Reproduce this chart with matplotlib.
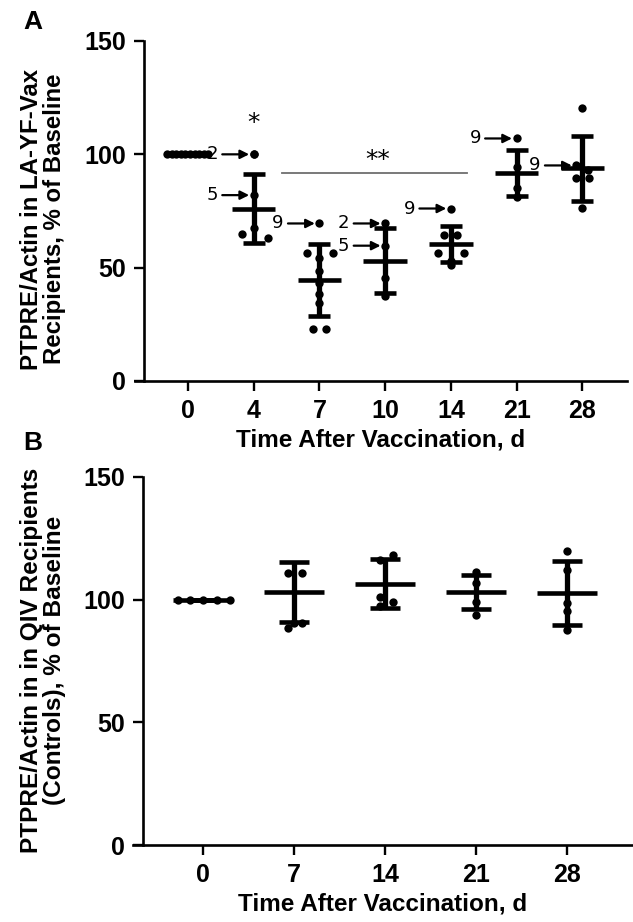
import numpy as np
import matplotlib
matplotlib.use("Agg")
import matplotlib.pyplot as plt

plt.rcParams['font.family'] = ['Liberation Sans', 'DejaVu Sans']

# ---- panel A: LA-YF-Vax recipients ----
days_a = ['0', '4', '7', '10', '14', '21', '28']
pts_a = [
    [100, 100, 100, 100, 100, 100, 100, 100, 100, 100],
    [100, 100, 82, 67.3, 65, 63.3],
    [69.5, 56.6, 56.6, 54.4, 48.7, 43.4, 38.5, 34.5, 23, 23],
    [69.5, 59.7, 45.6, 37.6],
    [76.1, 64.2, 64.2, 56.6, 56.6, 53.1, 51.3],
    [107, 94.2, 85, 81],
    [120.4, 95.1, 93, 89.4, 89.4, 76.5],
]
# horizontal scatter of the dots (category units)
jit_a = [
    [-0.32, -0.25, -0.18, -0.11, -0.04, 0.03, 0.1, 0.17, 0.24, 0.3],
    [0, 0, 0, 0, -0.18, 0.21],
    [0, -0.19, 0.2, 0, 0, 0, 0, 0, -0.1, 0.1],
    [0, 0, 0, 0],
    [0, -0.1, 0.09, -0.2, 0.2, 0, 0],
    [0, 0, 0, 0],
    [0, -0.09, 0.08, -0.09, 0.1, 0],
]
mean_a = [100, 76.1, 44.7, 53.1, 60.6, 91.6, 93.8]
sd_a = [0, 15.3, 15.9, 14.4, 8.0, 10.2, 14.4]

# subject labels (day, subject, value)
lab_day = ['4', '4', '7', '10', '10', '14', '21', '28']
lab_subj = ['2', '5', '9', '2', '5', '9', '9', '9']
lab_val = [100, 82, 69.5, 69.5, 59.7, 76.1, 107, 95.1]
lab_shift = [0, 0, 0, 0, 0, 0, 0, -0.09]

# ---- panel B: QIV recipients (controls) ----
days_b = ['0', '7', '14', '21', '28']
pts_b = [
    [100, 100, 100, 100, 100],
    [110.9, 110.9, 88.5, 90.5, 90.5],
    [118.2, 116.2, 101, 99, 97.4],
    [111.3, 106.8, 99, 93.8],
    [119.9, 112.1, 98.7, 95.4, 87.6],
]
jit_b = [
    [-0.28, -0.14, 0, 0.15, 0.3],
    [-0.07, 0.09, -0.07, 0.09, 0],
    [0.08, -0.06, -0.06, 0.08, -0.06],
    [0, 0, 0, 0],
    [0, 0, 0, 0, 0],
]
mean_b = [100, 103.1, 106.4, 103.1, 102.7]
sd_b = [0, 12.2, 10.0, 6.8, 13.0]

W, H = 633, 922
fig = plt.figure(figsize=(W / 100, H / 100), dpi=100)

def px_axes(left, right, top, bottom):
    return fig.add_axes([left / W, 1 - bottom / H, (right - left) / W, (bottom - top) / H])

def draw_panel(ax, days, pts, jit, means, sds, xlim, spine_x, capsize):
    idx = np.arange(len(days))
    for i in idx:
        xs = i + np.array(jit[i])
        ax.scatter(xs, pts[i], s=36, color='k', zorder=3, linewidths=0)
    ax.hlines(means, idx - 0.33, idx + 0.33, color='k', lw=3.3, zorder=4)
    ax.errorbar(idx, means, yerr=sds, fmt='none', ecolor='k', elinewidth=3.8,
                capsize=capsize, capthick=3.3, zorder=4)
    ax.set_xlim(*xlim)
    ax.set_ylim(0, 150)
    ax.set_xticks(idx)
    ax.set_xticklabels(days)
    ax.set_yticks([0, 50, 100, 150])
    for s in ['top', 'right']:
        ax.spines[s].set_visible(False)
    ax.spines['left'].set_position(('data', spine_x))
    ax.spines['left'].set_bounds(0, 150)
    for s in ['left', 'bottom']:
        ax.spines[s].set_linewidth(1.9)
    ax.tick_params(length=7, width=1.7, labelsize=18, pad=6)
    for t in ax.get_xticklabels() + ax.get_yticklabels():
        t.set_fontweight('bold')
    ax.set_xlabel('Time After Vaccination, d', fontsize=17.5, fontweight='bold', labelpad=4)
    return idx

# panel A
axA = px_axes(135, 627, 41, 381)
idxA = draw_panel(axA, days_a, pts_a, jit_a, mean_a, sd_a, (-0.807, 6.68), -0.67, 7.8)
axA.set_ylabel('PTPRE/Actin in LA-YF-Vax\nRecipients, % of Baseline',
               fontsize=17.3, fontweight='bold', linespacing=1.0)
axA.yaxis.set_label_coords(-0.14, 0.476)

for d, s, v, sh in zip(lab_day, lab_subj, lab_val, lab_shift):
    i = days_a.index(d) + sh
    axA.annotate(s, xy=(i - 0.07, v), xytext=(i - 0.63, v),
                 ha='center', va='center', fontsize=13, family='DejaVu Sans',
                 arrowprops=dict(arrowstyle='-|>', color='k', lw=1.6,
                                 mutation_scale=13, shrinkA=1, shrinkB=0))

axA.text(1, 113.7, '*', ha='center', va='center', fontsize=18, family='DejaVu Sans')
axA.plot([1.43, 4.25], [91.6, 91.6], color='#6e6e6e', lw=1.3)
axA.text(2.88, 97.5, '**', ha='center', va='center', fontsize=18, family='DejaVu Sans')

# panel B
axB = px_axes(133, 633, 477, 845)
idxB = draw_panel(axB, days_b, pts_b, jit_b, mean_b, sd_b, (-0.77, 4.72), -0.66, 10.8)
axB.set_ylabel('PTPRE/Actin in in QIV Recipients\n(Controls), % of Baseline',
               fontsize=17.6, fontweight='bold', linespacing=1.0)
axB.yaxis.set_label_coords(-0.134, 0.503)

fig.text(33 / W, 1 - 22 / H, 'A', ha='center', va='center', fontsize=19, fontweight='bold')
fig.text(33 / W, 1 - 443 / H, 'B', ha='center', va='center', fontsize=19, fontweight='bold')

fig.savefig('out.png', dpi=100)
